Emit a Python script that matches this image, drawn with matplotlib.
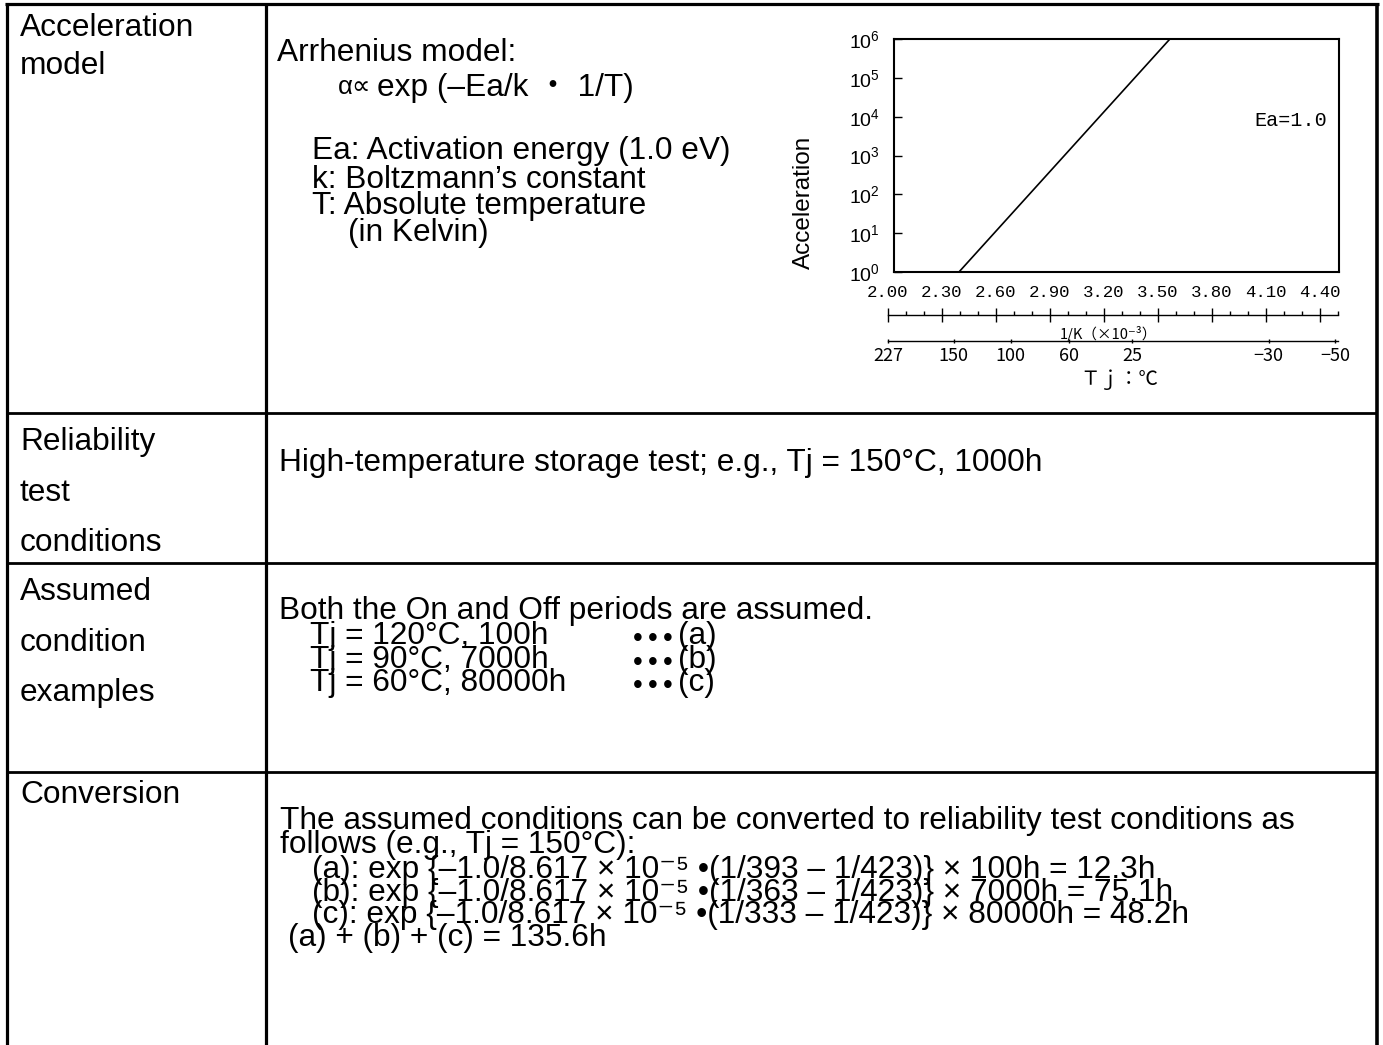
import matplotlib.pyplot as plt
import numpy as np

W, H = 1383, 1045

# table text
row_titles = [
    ["Acceleration", "model"],
    ["Reliability", "test", "conditions"],
    ["Assumed", "condition", "examples"],
    ["Conversion"],
]
model_lines = [
    "Ea: Activation energy (1.0 eV)",
    "k: Boltzmann\u2019s constant",
    "T: Absolute temperature",
]
test_line = "High-temperature storage test; e.g., Tj = 150\u00b0C, 1000h"
assumed_head = "Both the On and Off periods are assumed."
assumed_lines = ["Tj = 120\u00b0C, 100h", "Tj = 90\u00b0C, 7000h", "Tj = 60\u00b0C, 80000h"]
assumed_tags = ["(a)", "(b)", "(c)"]
conv_head = [
    "The assumed conditions can be converted to reliability test conditions as",
    "follows (e.g., Tj = 150\u00b0C):",
]
conv_lines = [
    "(a): exp {\u20131.0/8.617 \u00d7 10\u207b\u2075 \u2022(1/393 \u2013 1/423)} \u00d7 100h = 12.3h",
    "(b): exp {\u20131.0/8.617 \u00d7 10\u207b\u2075 \u2022(1/363 \u2013 1/423)} \u00d7 7000h = 75.1h",
    "(c): exp {\u20131.0/8.617 \u00d7 10\u207b\u2075 \u2022(1/333 \u2013 1/423)} \u00d7 80000h = 48.2h",
]
conv_total = "(a) + (b) + (c) = 135.6h"

# chart data (1/K in units of 1e-3)
inv_t_line = [2.365, 3.55]
accel_line = [1, 1e6]
decades = [0, 1, 2, 3, 4, 5, 6]
invk_major = [2.0, 2.3, 2.6, 2.9, 3.2, 3.5, 3.8, 4.1, 4.4]
invk_labels = ["2.00", "2.30", "2.60", "2.90", "3.20", "3.50", "3.80", "4.10", "4.40"]
temp_c = [227, 150, 100, 60, 25, -30, -50]
temp_labels = ["227", "150", "100", "60", "25", "\u221230", "\u221250"]

plt.rcParams["font.family"] = ["Liberation Sans", "DejaVu Sans", "Noto Sans CJK JP"]
plt.rcParams["mathtext.fontset"] = "custom"
plt.rcParams["mathtext.rm"] = "Liberation Sans"
plt.rcParams["mathtext.it"] = "Liberation Sans:italic"

fig = plt.figure(figsize=(W / 100, H / 100), dpi=100)
tab = fig.add_axes([0, 0, 1, 1])
tab.set_xlim(0, W)
tab.set_ylim(H, 0)
tab.axis("off")


def box(x0, y0, x1, y1):
    return [x0 / W, 1 - y1 / H, (x1 - x0) / W, (y1 - y0) / H]


FS = 22.8
JP = ["Noto Sans CJK JP", "DejaVu Sans"]


def put(x, y, s, size=FS, **kw):
    # y is the visual middle of the capitals
    tab.text(x, y + size * 0.48, s, fontsize=size, va="baseline", ha="left", **kw)


# grid of the table
lw = 2.3
tab.plot([5, 1379], [4, 4], color="k", lw=lw, solid_capstyle="butt")
tab.plot([7, 7], [3, H], color="k", lw=lw, solid_capstyle="butt")
tab.plot([1377, 1377], [3, H], color="k", lw=2.6, solid_capstyle="butt")
tab.plot([265.5, 265.5], [3, H], color="k", lw=lw, solid_capstyle="butt")
for y in [413, 563, 772]:
    tab.plot([7, 1377], [y, y], color="k", lw=2.0, solid_capstyle="butt")

# left column
title_y = [[25, 63], [439, 490, 540], [589, 640, 690], [792]]
for words, ys in zip(row_titles, title_y):
    for w, y in zip(words, ys):
        put(20, y, w)

# row 1
put(277, 50, "Arrhenius model:")
put(338, 85, "\u03b1\u221d", size=18.5)
put(377, 85, "exp (\u2013Ea/k \u30fb 1/T)")
for s, y in zip(model_lines, [148, 177, 203]):
    put(312, y, s)
put(348, 230, "(in Kelvin)")

# row 2
put(279, 460, test_line)

# row 3
put(279, 608, assumed_head)
for s, tag, y in zip(assumed_lines, assumed_tags, [633, 657, 680]):
    put(310, y, s)
    for xd in [633, 648, 663]:
        tab.text(xd, y + 13, "\u2022", fontsize=20, va="baseline", ha="left")
    put(678, y, tag)

# row 4
put(280, 818, conv_head[0])
put(280, 842, conv_head[1])
for s, y in zip(conv_lines, [867, 890, 912]):
    put(312, y, s)
put(288, 935, conv_total)

# chart
ax = fig.add_axes(box(894, 39, 1339, 272))
ax.plot(inv_t_line, accel_line, color="k", lw=1.2)
ax.set_yscale("log")
ax.set_xlim(2.0, 4.5)
ax.set_ylim(1, 1e6)
ax.set_yticks([10.0 ** d for d in decades])
ax.yaxis.set_minor_locator(plt.NullLocator())
ax.set_xticks([])
ax.tick_params(axis="y", direction="in", length=6, width=1, labelsize=14, pad=10)
for s in ax.spines.values():
    s.set_linewidth(1.5)
ax.text(0.892, 0.652, "Ea=1.0", transform=ax.transAxes, family="Liberation Mono",
        fontsize=14.5, ha="center", va="center")
ax.set_ylabel("Acceleration", fontsize=17.5)
ax.yaxis.set_label_coords(-0.178, 0.30)

# 1/K scale
ak = fig.add_axes(box(888, 300, 1338, 315))
ak.patch.set_alpha(0)
ak.set_xlim(2.0, 4.5)
ak.set_ylim(0, 1)
for side in ["left", "right", "top"]:
    ak.spines[side].set_visible(False)
ak.spines["bottom"].set_linewidth(1)
ak.set_yticks([])
minor = [v for v in np.round(np.arange(2.0, 4.51, 0.1), 2) if v not in invk_major]
ak.set_xticks(invk_major)
ak.set_xticks(minor, minor=True)
ak.tick_params(axis="x", which="major", direction="inout", length=9.5, width=1, labelbottom=False)
ak.tick_params(axis="x", which="minor", direction="in", length=3, width=1, labelbottom=False)
for v, lab in zip(invk_major, invk_labels):
    ak.text(v, 1.53, lab, transform=ak.get_xaxis_transform(), ha="center", va="center",
            family="Liberation Mono", fontsize=12.5)

# temperature scale
at = fig.add_axes(box(888, 326, 1338, 341))
at.patch.set_alpha(0)
at.set_xlim(2.0, 4.5)
at.set_ylim(0, 1)
for side in ["left", "right", "top"]:
    at.spines[side].set_visible(False)
at.spines["bottom"].set_linewidth(1)
at.set_yticks([])
at.set_xticks([1000 / (t + 273) for t in temp_c])
at.set_xticklabels(temp_labels, family=JP, fontsize=13)
at.tick_params(axis="x", direction="inout", length=3, width=1, pad=3)

tab.text(1108, 334, "1/K\uff08\u00d710\u207b\u00b3\uff09", fontsize=10.5, ha="center", va="center",
         family=JP)
tab.text(1119, 379, "\uff34\uff4a\uff1a\u2103", fontsize=14, ha="center", va="center", family=JP)

fig.savefig("out.png", dpi=100)
